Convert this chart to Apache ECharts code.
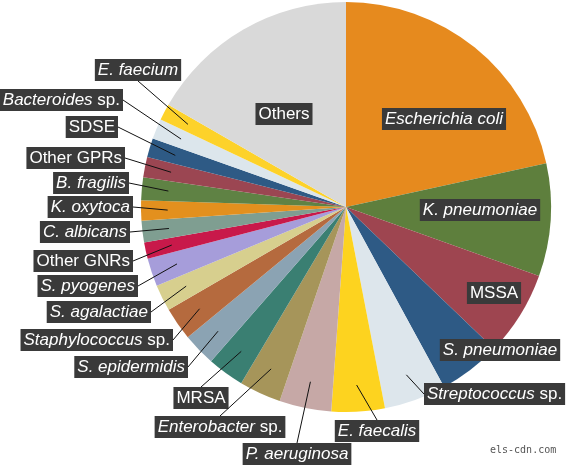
<!DOCTYPE html>
<html>
<head>
<meta charset="utf-8">
<script src="https://cdn.jsdelivr.net/npm/echarts@6/dist/echarts.min.js"></script>
<style>
html, body { margin: 0; padding: 0; background: #fff; }
#board { width: 566px; height: 466px; }
</style>
</head>
<body>
<div id="board"></div>
<script>
// organisms, clockwise from 12 o'clock ({i|..} = italic part)
var organisms = [
  "{i|Escherichia coli}", "{i|K. pneumoniae}", "MSSA", "{i|S. pneumoniae}",
  "{i|Streptococcus} sp.", "{i|E. faecalis}", "{i|P. aeruginosa}", "{i|Enterobacter} sp.",
  "MRSA", "{i|S. epidermidis}", "{i|Staphylococcus} sp.", "{i|S. agalactiae}",
  "{i|S. pyogenes}", "Other GNRs", "{i|C. albicans}", "{i|K. oxytoca}",
  "{i|B. fragilis}", "Other GPRs", "SDSE", "{i|Bacteroides} sp.",
  "{i|E. faecium}", "Others"
];
// share of isolates (%)
var shares = [
  21.6, 8.9, 6.7, 4.9,
  4.9, 4.2, 4.1, 3.3,
  2.9, 2.6, 2.6, 2.1,
  2.2, 1.3, 1.7, 1.6,
  1.8, 1.6, 1.5, 1.6,
  1.3, 16.7
];

var sliceColors = [
  "#e68a1e", "#5e7f3d", "#9e4550", "#2e5a85",
  "#dde6ec", "#fdd31f", "#c6a8a6", "#a6955a",
  "#3a7f72", "#8ba3b3", "#b56a3e", "#d7cf8e",
  "#a69dda", "#c8194a", "#7f9e91", "#e3901e",
  "#5f8244", "#9b4652", "#2e5a85", "#dce6ec",
  "#fdd22a", "#d9d9d9"
];

// where each label sits: [x, y, which side of the box the leader line meets]
var labelSpots = [
  [444, 119, "center"], [480, 210, "center"], [494, 293, "center"], [500, 350, "center"],
  [424, 394, "left"], [377, 420, "top"], [297, 443, "top"], [220, 416, "top"],
  [201, 387, "top"], [188, 367, "right"], [173, 340, "right"], [151, 312, "right"],
  [138, 286, "right"], [133, 261, "right"], [130, 232, "right"], [133, 207, "right"],
  [129, 183, "right"], [125, 158, "right"], [118, 127, "right"], [123, 100, "right"],
  [138, 81, "bottom"], [284, 114, "center"]
];

var CX = 346, CY = 207, R = 205;
var LINE_START = 0.87; // leader lines start at this fraction of the radius

function placeLabel(params) {
  var spot = labelSpots[params.dataIndex];
  var side = spot[2];
  var res = { x: spot[0], y: spot[1] };
  if (side === "right") { res.align = "right"; res.verticalAlign = "middle"; }
  else if (side === "left") { res.align = "left"; res.verticalAlign = "middle"; }
  else if (side === "top") { res.align = "center"; res.verticalAlign = "top"; }
  else if (side === "bottom") { res.align = "center"; res.verticalAlign = "bottom"; }
  else { res.align = "center"; res.verticalAlign = "middle"; }
  return res;
}

var font = "'Liberation Sans', Arial, Helvetica, sans-serif";

var pieData = organisms.map(function (name, i) {
  return {
    name: name,
    value: shares[i],
    itemStyle: { color: sliceColors[i] }
  };
});

var myChart = echarts.init(document.getElementById("board"));
myChart.setOption({
  animation: false,
  series: [{
    type: "pie",
    center: [CX, CY],
    radius: [0, R],
    startAngle: 90,
    clockwise: true,
    avoidLabelOverlap: false,
    emphasis: { disabled: true },
    itemStyle: { borderWidth: 0 },
    label: {
      show: true,
      position: "inside",
      formatter: "{b}",
      color: "#fff",
      backgroundColor: "#3a3a3a",
      padding: [2, 3],
      fontFamily: font,
      fontSize: 17,
      lineHeight: 18,
      rich: {
        i: { fontStyle: "italic", color: "#fff", fontFamily: font, fontSize: 17, lineHeight: 18 }
      }
    },
    labelLine: { show: false },
    labelLayout: placeLabel,
    data: pieData
  }]
});

// leader lines: from inside each slice to its label
var sliceData = myChart.getModel().getSeriesByIndex(0).getData();
var leaders = [];
labelSpots.forEach(function (spot, i) {
  if (spot[2] === "center") return;
  var lay = sliceData.getItemLayout(i);
  var mid = (lay.startAngle + lay.endAngle) / 2;
  var len = lay.r * LINE_START;
  leaders.push({
    type: "line",
    silent: true,
    z: 10,
    shape: {
      x1: lay.cx + len * Math.cos(mid),
      y1: lay.cy + len * Math.sin(mid),
      x2: spot[0],
      y2: spot[1]
    },
    style: { stroke: "#111", lineWidth: 1 }
  });
});
// source watermark
leaders.push({
  type: "text",
  left: 490,
  top: 445,
  style: { text: "els-cdn.com", font: "10px 'DejaVu Sans Mono', monospace", fill: "#555" }
});
myChart.setOption({ graphic: leaders });
</script>
</body>
</html>
